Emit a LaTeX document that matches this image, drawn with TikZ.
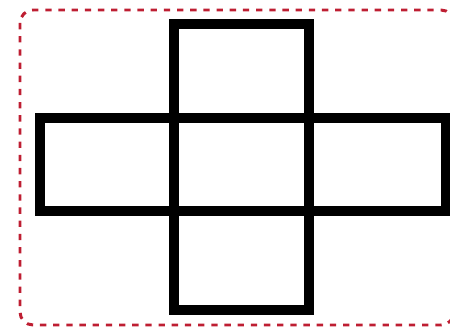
\documentclass[tikz,border=0pt]{standalone}
\usepackage{tikz}
\usetikzlibrary{positioning}
\definecolor{framered}{RGB}{190,30,50}
\tikzset{
  cell/.style={rectangle,draw=black,line width=0.2cm,outer sep=0pt,inner sep=0pt,
    minimum width=2.69cm,minimum height=1.88cm},
  frame/.style={draw=framered,line width=1.7pt,dash pattern=on 3.6pt off 3.9pt,rounded corners=0.26cm}
}

\begin{document}
\begin{tikzpicture}[x=0.02cm,y=-0.02cm]
\useasboundingbox (0,0) rectangle (450,328);

% outer frame
\draw[frame] (20,10) rectangle (454,325);

% cross of cells
\node[cell] (mid) at (241.5,164.5) {};
\node[cell,above=0 of mid] (top) {};
\node[cell,below=0 of mid,minimum height=1.98cm] (bot) {};
\node[cell,left=0 of mid] (lft) {};
\node[cell,right=0 of mid,minimum width=2.74cm] (rgt) {};

\end{tikzpicture}
\end{document}
